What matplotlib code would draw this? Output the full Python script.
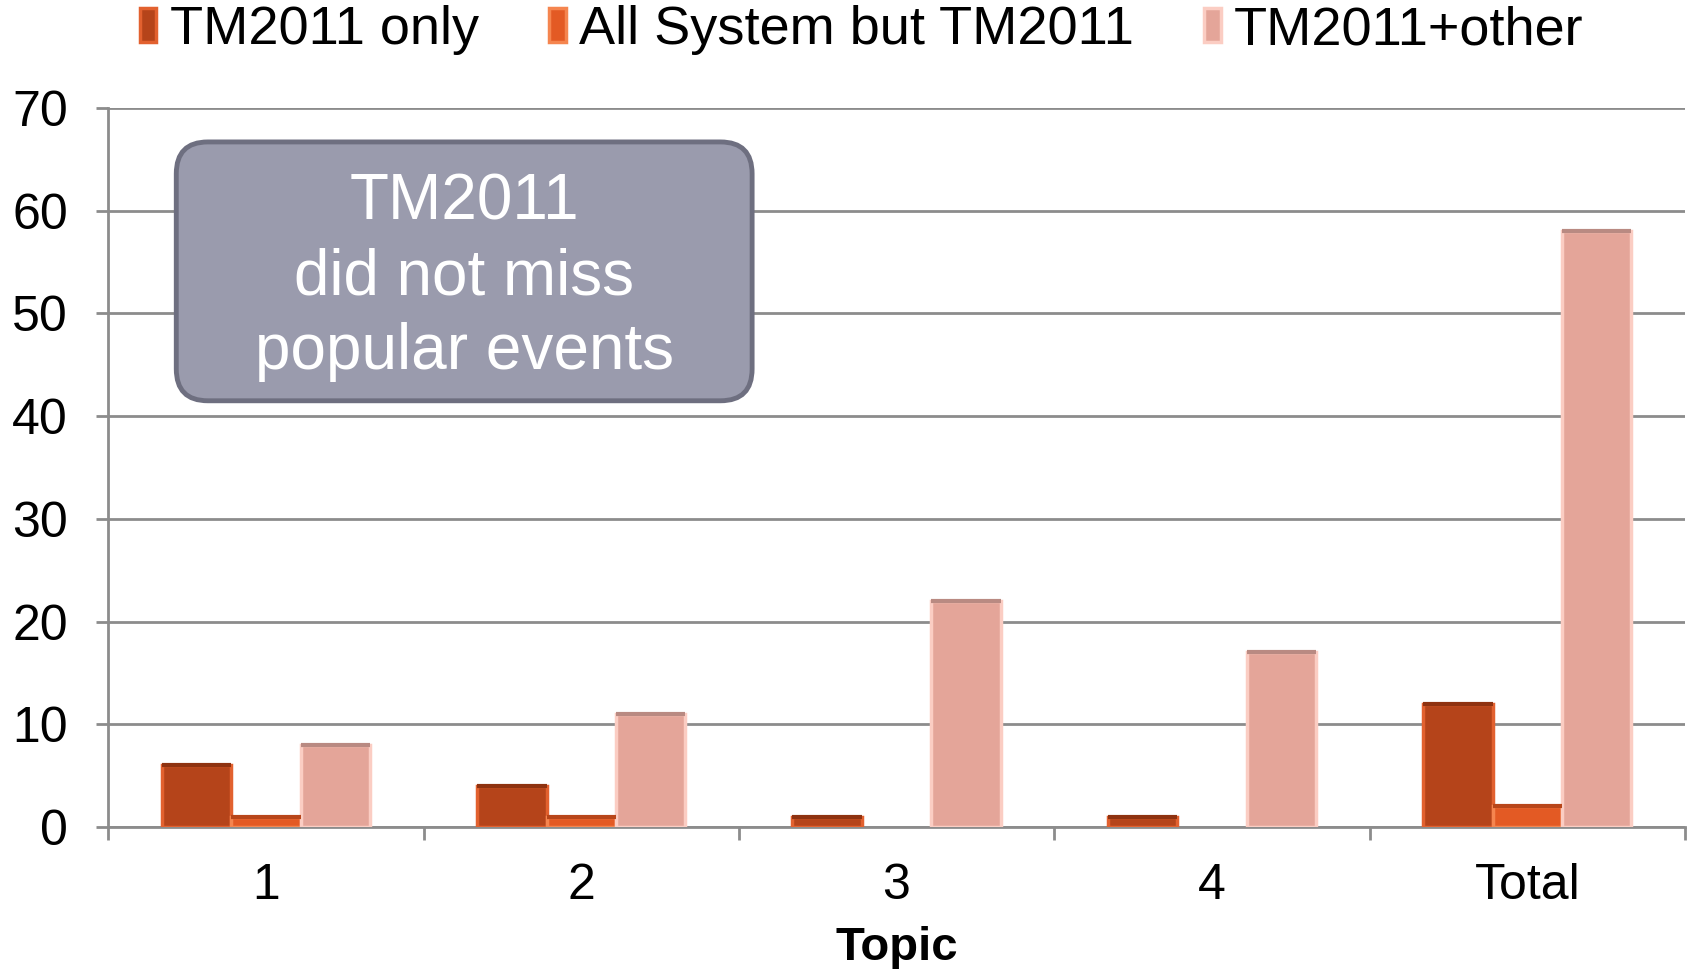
import matplotlib.pyplot as plt
import numpy as np
from matplotlib.patches import FancyBboxPatch

plt.rcParams['font.family'] = ['Liberation Sans', 'DejaVu Sans']

# data
topics = ['1', '2', '3', '4', 'Total']
tm_only = [6, 4, 1, 1, 12]
all_but_tm = [1, 1, 0, 0, 2]
tm_plus_other = [8, 11, 22, 17, 58]
series_names = ['TM2011 only', 'All System but TM2011', 'TM2011+other']

colors = ['#B5441A', '#E35A24', '#E4A599']
edges = ['#E2612F', '#F5854F', '#FBCDC3']
tops = ['#8E3210', '#B8461A', '#B98A82']

fig = plt.figure(figsize=(16.9, 9.69), dpi=100)
ax = fig.add_axes([0.064, 0.1465, 0.933, 0.742])

x = np.arange(len(topics))
w = 0.22
for i, vals in enumerate([tm_only, all_but_tm, tm_plus_other]):
    lw = [2.5 if v > 0 else 0 for v in vals]
    ax.bar(x + (i - 1) * w, vals, width=w, color=colors[i], edgecolor=edges[i],
           linewidth=lw, label=series_names[i], zorder=3)
    # darker top edge for the bevel look
    nz = np.array(vals) > 0
    ax.hlines(np.array(vals)[nz], (x + (i - 1) * w - w / 2)[nz],
              (x + (i - 1) * w + w / 2)[nz], color=tops[i],
              linewidth=3, zorder=4)

ax.set_xlim(-0.5, len(topics) - 0.5)
ax.set_ylim(0, 70)
ax.set_yticks(range(0, 71, 10))
ax.yaxis.grid(True, color='#8C8C8C', linewidth=2, zorder=0)
ax.set_axisbelow(True)

for s in ['top', 'right']:
    ax.spines[s].set_visible(False)
for s in ['left', 'bottom']:
    ax.spines[s].set_color('#8C8C8C')
    ax.spines[s].set_linewidth(2)

ax.set_xticks(x)
ax.set_xticklabels(topics)
ax.set_xticks(np.arange(-0.5, len(topics)), minor=True)
ax.tick_params(axis='x', which='major', length=0, pad=26, labelsize=36)
ax.tick_params(axis='x', which='minor', length=9, width=2, color='#8C8C8C')
ax.tick_params(axis='y', length=9, width=2, color='#8C8C8C', pad=20, labelsize=36)

ax.set_xlabel('Topic', fontsize=34, fontweight='bold', labelpad=12)

# annotation box
box = FancyBboxPatch((-0.284, 41.5), 1.826, 25.2,
                     boxstyle='round,pad=0,rounding_size=0.1', mutation_aspect=31,
                     facecolor='#9A9BAD', edgecolor='#6E6F80', linewidth=3.5, zorder=5)
ax.add_patch(box)
ax.text(0.629, 53.5, 'TM2011\ndid not miss\npopular events', color='white',
        fontsize=46, ha='center', va='center', linespacing=1.31, zorder=6)

fig.legend(loc='center', bbox_to_anchor=(0.51, 0.969), ncol=3, frameon=False,
           fontsize=39, handlelength=0.3, handleheight=0.6, handletextpad=0.25,
           columnspacing=1.3)

fig.savefig('out.png', dpi=100)
